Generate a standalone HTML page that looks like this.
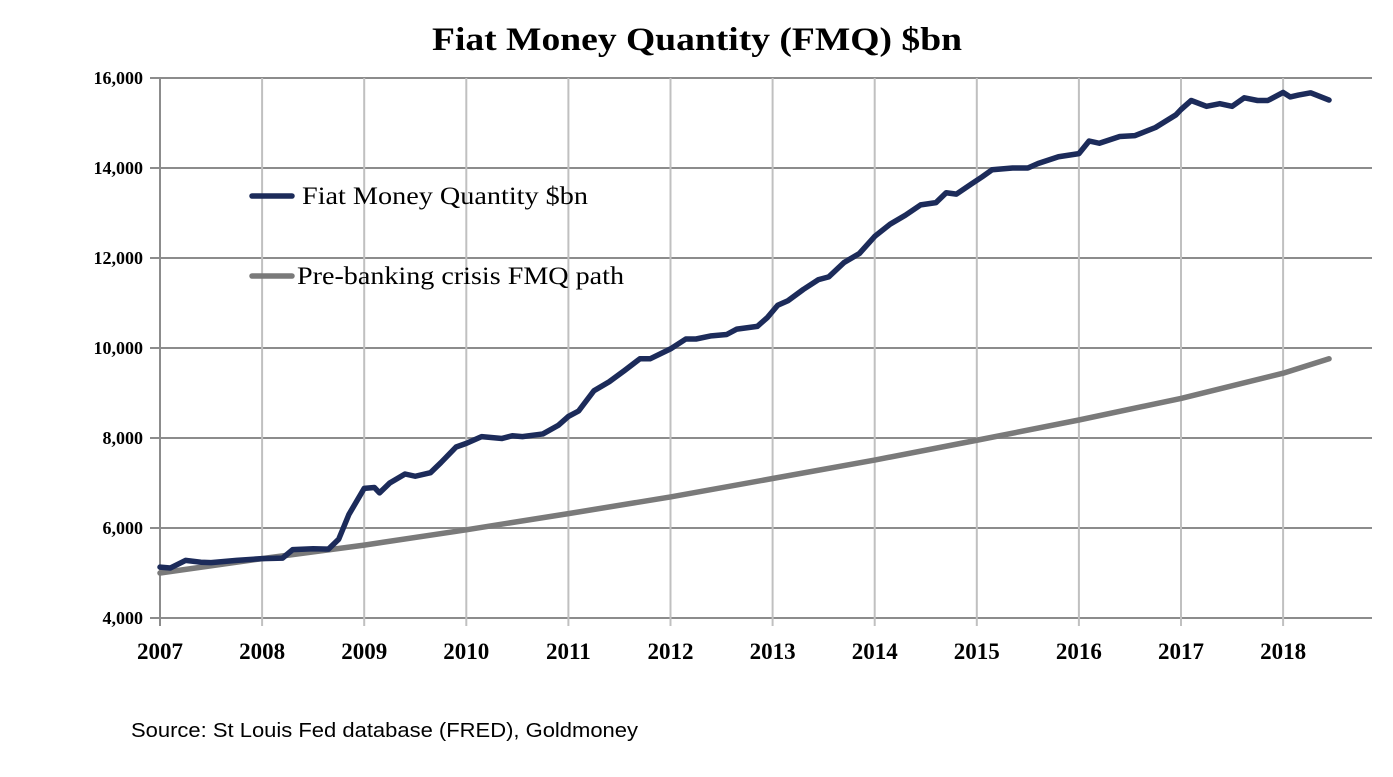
<!DOCTYPE html>
<html><head><meta charset="utf-8"><style>
body{margin:0;background:#fff;width:1393px;height:777px;overflow:hidden}
svg{display:block}
</style></head><body>
<svg width="1393" height="777" id="c" xml:space="preserve">
<text x="432" y="50" textLength="530" lengthAdjust="spacingAndGlyphs" font-family="Liberation Serif, serif" font-weight="bold" font-size="33">Fiat Money Quantity (FMQ)  $bn</text>
<g id="grid"></g><g id="series"></g>
<g>
<line x1="252" y1="196" x2="292" y2="196" stroke="#1c2b5a" stroke-width="5.5" stroke-linecap="round"/>
<text x="302" y="204" textLength="286" lengthAdjust="spacingAndGlyphs" font-family="Liberation Serif, serif" font-size="25">Fiat Money Quantity $bn</text>
<line x1="252" y1="276" x2="292" y2="276" stroke="#7a7a7a" stroke-width="5.5" stroke-linecap="round"/>
<text x="297" y="284" textLength="327" lengthAdjust="spacingAndGlyphs" font-family="Liberation Serif, serif" font-size="25">Pre-banking crisis FMQ path</text>
</g>
<text x="131" y="737" textLength="507" lengthAdjust="spacingAndGlyphs" font-family="Liberation Sans, sans-serif" font-size="20">Source: St Louis Fed  database (FRED), Goldmoney</text>
</svg>
<script>
const years=[2007,2008,2009,2010,2011,2012,2013,2014,2015,2016,2017,2018];
const yTicks=[4000,6000,8000,10000,12000,14000,16000];
const fmqT=[2007.0,2007.1,2007.25,2007.4,2007.5,2007.75,2008.0,2008.2,2008.3,2008.5,2008.65,2008.75,2008.85,2009.0,2009.1,2009.15,2009.25,2009.4,2009.5,2009.65,2009.75,2009.9,2010.0,2010.15,2010.35,2010.45,2010.55,2010.75,2010.9,2011.0,2011.1,2011.25,2011.4,2011.55,2011.7,2011.8,2012.0,2012.15,2012.25,2012.4,2012.55,2012.65,2012.85,2012.95,2013.05,2013.15,2013.3,2013.45,2013.55,2013.7,2013.85,2014.0,2014.15,2014.3,2014.45,2014.6,2014.7,2014.8,2014.95,2015.05,2015.15,2015.35,2015.5,2015.6,2015.8,2016.0,2016.1,2016.2,2016.4,2016.55,2016.75,2016.95,2017.0,2017.1,2017.25,2017.38,2017.5,2017.62,2017.75,2017.85,2018.0,2018.07,2018.15,2018.27,2018.45];
const fmqV=[5130,5110,5280,5240,5230,5280,5320,5330,5520,5540,5530,5750,6300,6880,6900,6780,7000,7200,7150,7230,7450,7800,7880,8030,7990,8050,8030,8090,8280,8480,8600,9050,9250,9500,9760,9760,9980,10200,10200,10270,10300,10420,10480,10680,10950,11050,11300,11520,11580,11900,12100,12480,12750,12950,13180,13230,13450,13420,13650,13800,13960,14000,14000,14100,14250,14320,14600,14550,14700,14720,14900,15180,15300,15500,15370,15430,15370,15560,15500,15500,15680,15580,15620,15670,15510];
const pathT=[2007,2008,2009,2010,2011,2012,2013,2014,2015,2016,2017,2018,2018.45];
const pathV=[5000,5320,5620,5960,6320,6690,7100,7510,7950,8400,8880,9440,9760];
const NS='http://www.w3.org/2000/svg';
const X0=160,XS=102.1,Y0=618,YS=45/1000;
const xs=t=>X0+(t-2007)*XS, ys=v=>Y0-(v-4000)*YS;
const grid=document.getElementById('grid'),ser=document.getElementById('series');
function mk(tag,a,p){const e=document.createElementNS(NS,tag);for(const k in a)e.setAttribute(k,a[k]);p.appendChild(e);return e;}
yTicks.forEach(v=>{
  const l=mk('line',{x1:150,x2:1372,y1:ys(v),y2:ys(v),stroke:'#8c8c8c','stroke-width':2},grid);
  
  
  const t=mk('text',{x:143,y:ys(v)+6,'text-anchor':'end','font-family':'Liberation Serif, serif','font-weight':'bold','font-size':18},grid);
  t.textContent=v.toLocaleString('en-US');
  
  
});
years.forEach(y=>{
  const l=mk('line',{x1:xs(y),x2:xs(y),y1:ys(16000),y2:Y0+8,stroke:y===2007?'#8c8c8c':'#c0c0c0','stroke-width':2},grid);
  
  
  const t=mk('text',{x:xs(y),y:Y0+41,'text-anchor':'middle','font-family':'Liberation Serif, serif','font-weight':'bold','font-size':23},grid);
  t.textContent=y;
  
  
});
function line(T,V,col,name){
  const p=mk('polyline',{points:T.map((t,i)=>xs(t)+','+ys(V[i])).join(' '),fill:'none',stroke:col,'stroke-width':5.5,'stroke-linejoin':'round','stroke-linecap':'round'},ser);
  
  
}
line(pathT,pathV,'#7a7a7a','pre-crisis-path-line');
line(fmqT,fmqV,'#1c2b5a','fmq-line');
</script>
</body></html>
